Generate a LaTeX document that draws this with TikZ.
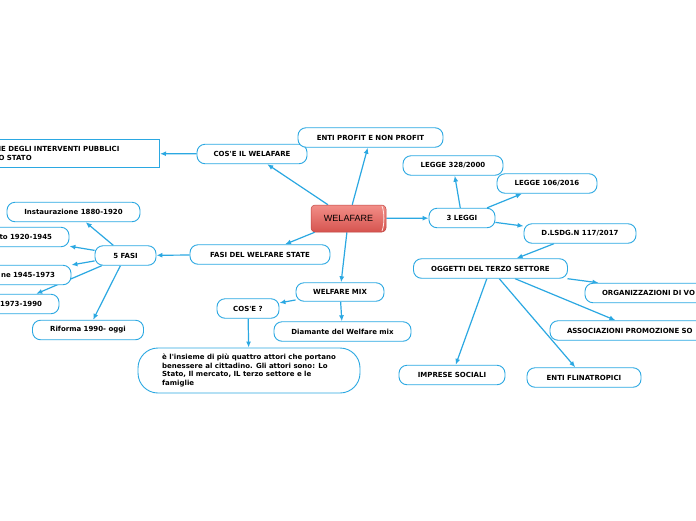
\documentclass[tikz,border=0pt]{standalone}
\usepackage{fontspec}
\setmainfont{DejaVu Sans}
\newfontfamily\welfont{Liberation Sans}
\usetikzlibrary{arrows.meta,calc,backgrounds}
\definecolor{wblue}{RGB}{43,168,226}
\definecolor{wredtop}{RGB}{242,142,136}
\definecolor{wredbot}{RGB}{214,84,79}
\definecolor{wredline}{RGB}{190,70,66}
\begin{document}
\begin{tikzpicture}[x=1pt,y=-1pt,
  pill/.style={draw=wblue, line width=0.9pt, fill=white, rounded corners=8pt,
    font=\bfseries\fontsize{7}{8.5}\selectfont, text=black,
    minimum height=19.5pt, inner sep=0pt},
  cutl/.style={pill, align=right, inner xsep=17pt},
  cutr/.style={pill, align=left, inner xsep=17pt},
  arr/.style={draw=wblue, line width=1.2pt, -{Latex[length=6pt,width=5pt]}}]
\useasboundingbox (0,0) rectangle (696,520);
\clip (0,0) rectangle (696,520);

% central node
\node[rectangle, rounded corners=4pt, draw=wredline, line width=0.5pt,
  top color=wredtop, bottom color=wredbot, minimum width=75pt, minimum height=27pt,
  inner sep=0pt, font=\welfont\fontsize{9}{10}\selectfont] (wel) at (348.5,218.5) {WELAFARE\hspace{4pt}};
\draw[white!75!wredtop, line width=0.8pt] (382,206) .. controls (384.5,212) and (384.5,225) .. (382,231);

% left side
\node[pill, minimum width=110pt] (cosw) at (252,154) {COS\textquotesingle E IL WELAFARE};
\node[draw=wblue, line width=0.9pt, fill=white, rectangle, anchor=east,
  inner xsep=0pt, inner ysep=0pt, text width=161pt, align=left, minimum height=28pt,
  font=\bfseries\fontsize{7}{9}\selectfont] (lbox) at (160,153.5)
  {IE DEGLI INTERVENTI PUBBLICI\\O STATO};
\node[pill, minimum width=145pt] (ep) at (370.5,137.5) {ENTI PROFIT E NON PROFIT};
\node[pill, minimum width=140pt] (fasi) at (260,254.5) {FASI DEL WELFARE STATE};
\node[pill, minimum width=61pt] (f5) at (125.5,255.5) {5 FASI};
\node[pill, minimum width=133pt] (inst) at (73.5,212) {Instaurazione 1880-1920};
\node[cutl, text width=76pt] (to1920) at (14,237) {to 1920-1945};
\node[cutl, inner xsep=16pt, text width=82pt] (ne1945) at (14,275) {ne 1945-1973};
\node[cutl, text width=59pt] (y1973) at (12.5,304) {1973-1990};
\node[pill, minimum width=111pt] (rif) at (88,330) {Riforma 1990- oggi};

% welfare mix
\node[pill, minimum width=88pt, minimum height=18.5pt] (wmix) at (340,292) {WELFARE MIX};
\node[pill, minimum width=62pt] (cose) at (248,308.5) {COS\textquotesingle E ?};
\node[pill, minimum width=137pt] (diam) at (342.5,331.5) {Diamante del Welfare mix};
\node[pill, rounded corners=20pt, minimum width=222pt, minimum height=45pt, align=left,
  font=\bfseries\fontsize{7}{8.6}\selectfont] (desc) at (249,370.5)
  {è l\textquotesingle insieme di più quattro attori che portano\\
   benessere al cittadino. Gli attori sono: Lo\\
   Stato, Il mercato, IL terzo settore e le\\
   famiglie};

% right side
\node[pill, minimum width=66pt] (leggi) at (462,218) {3 LEGGI};
\node[pill, minimum width=100pt] (l328) at (453,165.5) {LEGGE 328/2000};
\node[pill, minimum width=100pt] (l106) at (547,183.5) {LEGGE 106/2016};
\node[pill, minimum width=112pt] (dlsdg) at (580,233.5) {D.LSDG.N 117/2017};
\node[pill, minimum width=154pt] (ogg) at (490.5,268.5) {OGGETTI DEL TERZO SETTORE};
\node[cutr, text width=147pt] (org) at (675.5,293) {ORGANIZZAZIONI DI VO};
\node[cutr, text width=146pt] (assoc) at (640,330.5) {ASSOCIAZIONI PROMOZIONE SO};
\node[pill, minimum width=106pt] (imp) at (452,375) {IMPRESE SOCIALI};
\node[pill, minimum width=114pt] (enti) at (584,377.5) {ENTI FLINATROPICI};

\begin{scope}[on background layer]
\fill[white] (0,0) rectangle (696,520);
\draw[arr] (wel) -- (cosw);
\draw[arr] (cosw) -- (lbox);
\draw[arr] (wel) -- (ep);
\draw[arr] (wel) -- (fasi);
\draw[arr] (fasi) -- (f5);
\draw[arr] (f5) -- (inst);
\draw[arr] (f5) -- (to1920);
\draw[arr] (f5) -- (ne1945);
\draw[arr] (f5) -- (y1973);
\draw[arr] (f5) -- (rif);
\draw[arr] (wel) -- (wmix);
\draw[arr] (wmix) -- (cose);
\draw[arr] (wmix) -- (diam);
\draw[arr] (cose) -- (desc);
\draw[arr] (wel) -- (leggi);
\draw[arr] (leggi) -- (l328);
\draw[arr] (leggi) -- (l106);
\draw[arr] (leggi) -- (dlsdg);
\draw[arr] (dlsdg) -- (ogg);
\draw[arr] (ogg) -- (org);
\draw[arr] (ogg) -- (assoc);
\draw[arr] (ogg) -- (imp);
\draw[arr] (ogg) -- (enti);
\end{scope}
\end{tikzpicture}
\end{document}
